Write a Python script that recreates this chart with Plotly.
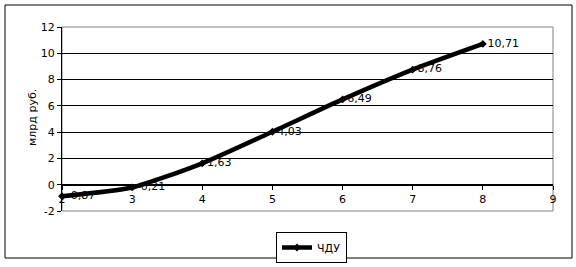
import plotly.graph_objects as go

x_vals = [2, 3, 4, 5, 6, 7, 8]
y_vals = [-0.87, -0.21, 1.63, 4.03, 6.49, 8.76, 10.71]
labels = ["-0,87", "-0,21", "1,63", "4,03", "6,49", "8,76", "10,71"]
y_ticks = [-2, 0, 2, 4, 6, 8, 10, 12]
y_ticktext = ["-2", "0", "2", "4", "6", "8", "10", "12"]
x_ticks = [2, 3, 4, 5, 6, 7, 8, 9]
series_name = "ЧДУ"
y_title = "млрд руб."

L, R, T, B = 62, 23, 27, 56
W, H = 576, 267
pw, ph = W - L - R, H - T - B

def px_x(p):
    return (p - L) / pw

def px_y(p):
    return (H - B - p) / ph

fig = go.Figure()
fig.add_trace(go.Scatter(
    x=x_vals, y=y_vals, mode="lines+markers+text", name=series_name,
    text=labels, textposition="middle right",
    textfont=dict(family="DejaVu Sans", size=11, color="black"),
    line=dict(color="black", width=4.5, shape="spline", smoothing=0.6),
    marker=dict(symbol="diamond", size=6, color="black"),
    cliponaxis=False,
))

fig.update_layout(
    width=W, height=H,
    margin=dict(l=L, r=R, t=T, b=B, autoexpand=False),
    paper_bgcolor="white", plot_bgcolor="white",
    font=dict(family="DejaVu Sans", size=11, color="black"),
    showlegend=True,
    legend=dict(orientation="h", x=px_x(276), xanchor="left",
                y=px_y(232), yanchor="top",
                bordercolor="black", borderwidth=1, bgcolor="white",
                font=dict(size=11), itemwidth=30, tracegroupgap=0),
    xaxis=dict(range=[2, 9], tickvals=x_ticks, showgrid=False,
               zeroline=False, showline=True, linecolor="black", linewidth=1,
               ticks="outside", ticklen=4, tickcolor="black",
               anchor="free", position=2/14),
    yaxis=dict(range=[-2, 12], tickvals=y_ticks, ticktext=y_ticktext,
               showgrid=True, gridcolor="black",
               gridwidth=1, zeroline=False, showline=True, linecolor="black",
               ticks="outside", ticklen=4, tickcolor="black"),
    annotations=[dict(text=y_title, xref="paper", yref="paper",
                      x=px_x(32), y=px_y(118), textangle=-90,
                      showarrow=False, xanchor="center", yanchor="middle",
                      font=dict(size=11))],
    shapes=[
        dict(type="rect", xref="paper", yref="paper", x0=0, x1=1, y0=0, y1=1,
             line=dict(color="gray", width=1), layer="below"),
        dict(type="rect", xref="paper", yref="paper",
             x0=px_x(5), x1=px_x(572), y0=px_y(258), y1=px_y(5),
             line=dict(color="black", width=1)),
    ],
)

fig.write_html("out.html")
